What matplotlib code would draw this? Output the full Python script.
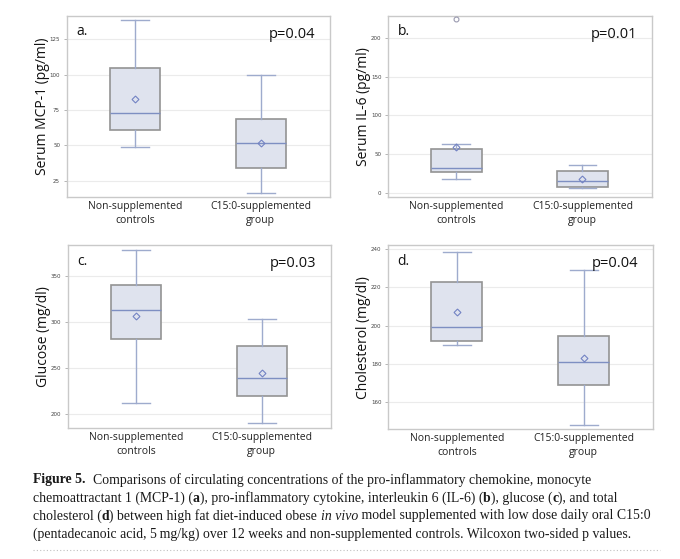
import matplotlib
matplotlib.use("Agg")
import matplotlib.pyplot as plt
from matplotlib.lines import Line2D

groups = ["Non-supplemented\ncontrols", "C15:0-supplemented\ngroup"]

# per panel: [whislo, q1, median, q3, whishi, mean] for each group
mcp1 = [[49, 61, 73, 104.5, 138.5, 83], [16, 34.2, 52, 69, 100, 51.4]]
il6 = [[18.7, 27, 32, 57.2, 63.6, 59.4], [6.8, 8.1, 15.4, 28.2, 35.9, 18]]
il6_fliers = [[223.6], []]
glucose = [[212.6, 282.2, 313, 340.9, 378.9, 306.8], [190.2, 220.2, 239.1, 274.6, 303.9, 244.6]]
chol = [[190, 192, 199.5, 222.8, 238.7, 207.2], [148, 169, 181, 194.8, 228.9, 183.3]]

panels = [
    dict(data=mcp1, fliers=[[], []], label="Serum MCP-1 (pg/ml)", tag="a.", p="p=0.04",
         ticks=[25, 50, 75, 100, 125], ylim=(13.5, 141.5)),
    dict(data=il6, fliers=il6_fliers, label="Serum IL-6 (pg/ml)", tag="b.", p="p=0.01",
         ticks=[0, 50, 100, 150, 200], ylim=(-5, 228)),
    dict(data=glucose, fliers=[[], []], label="Glucose (mg/dl)", tag="c.", p="p=0.03",
         ticks=[200, 250, 300, 350], ylim=(184.8, 383.7)),
    dict(data=chol, fliers=[[], []], label="Cholesterol (mg/dl)", tag="d.", p="p=0.04",
         ticks=[160, 180, 200, 220, 240], ylim=(145.7, 242.1)),
]

rects = [
    (67, 16, 330, 197),
    (388.3, 16, 651.7, 197),
    (68, 245.3, 331, 428.3),
    (388.3, 245.3, 653.3, 429.3),
]

W, H = 680, 559
fig = plt.figure(figsize=(W / 100, H / 100), dpi=100)
fig.patch.set_facecolor("white")

sans = ["Open Sans", "DejaVu Sans"]
box_face = "#dfe3ee"
box_edge = "#939393"
whisk = "#9eabcd"
med_c = "#7e8fc2"
mean_c = "#7383c4"

for pnl, (l, t, r, b) in zip(panels, rects):
    ax = fig.add_axes([l / W, 1 - b / H, (r - l) / W, (b - t) / H])
    stats = []
    for vals, fl in zip(pnl["data"], pnl["fliers"]):
        stats.append(dict(whislo=vals[0], q1=vals[1], med=vals[2], q3=vals[3],
                          whishi=vals[4], mean=vals[5], fliers=fl))
    ax.bxp(stats, positions=[1, 2], widths=0.4, patch_artist=True, showmeans=True,
           boxprops=dict(facecolor=box_face, edgecolor=box_edge, linewidth=1.2),
           whiskerprops=dict(color=whisk, linewidth=1.0),
           capprops=dict(color=whisk, linewidth=1.0),
           capwidths=0.22,
           medianprops=dict(color=med_c, linewidth=1.0),
           meanprops=dict(marker="D", markerfacecolor="none", markeredgecolor=mean_c,
                          markersize=3.5, markeredgewidth=0.8),
           flierprops=dict(marker="o", markerfacecolor="none", markeredgecolor="#9a9ab0",
                           markersize=3.5, markeredgewidth=0.8),
           zorder=3)
    ax.set_xlim(0.46, 2.55)
    ax.set_ylim(*pnl["ylim"])
    ax.set_yticks(pnl["ticks"])
    ax.set_yticklabels([str(v) for v in pnl["ticks"]], fontsize=4, color="#444444")
    ax.set_xticks([1, 2])
    ax.set_xticklabels(groups, fontsize=7.5, family=sans, color="#222222", linespacing=1.35)
    ax.tick_params(axis="y", length=2, width=0.5, color="#999999", pad=3)
    ax.tick_params(axis="x", length=0, pad=3)
    ax.yaxis.grid(True, color="#ebebeb", linewidth=0.8, zorder=0)
    ax.set_axisbelow(True)
    for s in ax.spines.values():
        s.set_color("#c9c9c9")
        s.set_linewidth(1.0)
    ax.set_ylabel(pnl["label"], fontsize=10, family=sans, color="#111111", labelpad=0)
    ax.text(0.035, 0.955, pnl["tag"], transform=ax.transAxes, fontsize=10, family=sans,
            ha="left", va="top", color="#111111")
    ax.text(0.945, 0.94, pnl["p"], transform=ax.transAxes, fontsize=10.5, family=sans,
            ha="right", va="top", color="#111111")

# caption
serif = ["Liberation Serif", "DejaVu Serif"]
lines = [
    [("Figure 5.", "bold", "normal"), ("  Comparisons of circulating concentrations of the pro-inflammatory chemokine, monocyte", "normal", "normal")],
    [("chemoattractant 1 (MCP-1) (", "normal", "normal"), ("a", "bold", "normal"),
     ("), pro-inflammatory cytokine, interleukin 6 (IL-6) (", "normal", "normal"), ("b", "bold", "normal"),
     ("), glucose (", "normal", "normal"), ("c", "bold", "normal"), ("), and total", "normal", "normal")],
    [("cholesterol (", "normal", "normal"), ("d", "bold", "normal"),
     (") between high fat diet-induced obese ", "normal", "normal"), ("in vivo", "normal", "italic"),
     (" model supplemented with low dose daily oral C15:0", "normal", "normal")],
    [("(pentadecanoic acid, 5\u2009mg/kg) over 12 weeks and non-supplemented controls. Wilcoxon two-sided p values.", "normal", "normal")],
]
line_y = [480, 498, 516, 534]
x0 = 33
fig.canvas.draw()
renderer = fig.canvas.get_renderer()
for segs, yy in zip(lines, line_y):
    x = x0
    for txt, wt, st in segs:
        tt = fig.text(x / W, 1 - yy / H, txt, fontsize=9.9, family=serif, weight=wt,
                      style=st, ha="left", va="center", color="#1a1a1a")
        bb = tt.get_window_extent(renderer=renderer)
        x = x + bb.width

fig.add_artist(Line2D([33 / W, 660 / W], [1 - 550 / H, 1 - 550 / H], transform=fig.transFigure,
                      color="#c0c0c0", linewidth=0.8, linestyle=(0, (1, 2))))

fig.savefig("out.png", dpi=100)
